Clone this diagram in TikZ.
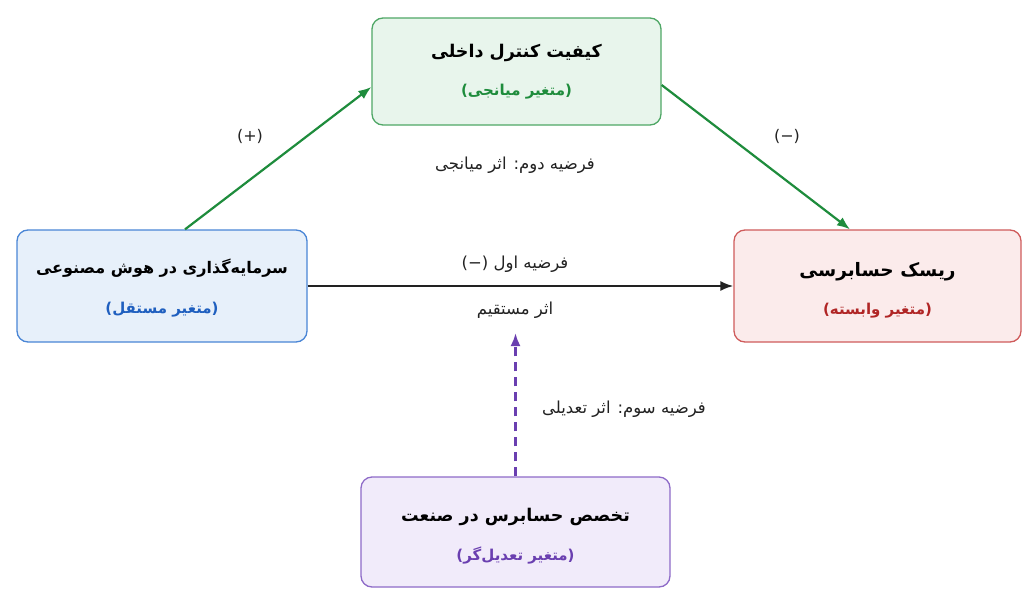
\documentclass[tikz,border=0pt]{standalone}
\usepackage{fontspec}
\TeXXeTstate=1
\setmainfont{DejaVu Sans}
\newfontfamily\fa[Script=Arabic]{DejaVu Sans}
\newfontfamily\la{DejaVu Sans}
\usetikzlibrary{arrows.meta,calc}
\definecolor{gfill}{HTML}{E8F5EC}\definecolor{gline}{HTML}{4FA766}\definecolor{gtext}{HTML}{1E8C3C}
\definecolor{bfill}{HTML}{E7F0FA}\definecolor{bline}{HTML}{4A86D6}\definecolor{btext}{HTML}{1F5FBF}
\definecolor{rfill}{HTML}{FBEBEB}\definecolor{rline}{HTML}{CF5B5B}\definecolor{rtext}{HTML}{B02525}
\definecolor{pfill}{HTML}{F1EBFA}\definecolor{pline}{HTML}{8E6BC8}\definecolor{ptext}{HTML}{6A3FB0}
\definecolor{ink}{HTML}{222222}
\begin{document}
\begin{tikzpicture}[x=1pt,y=-1pt,
  box/.style={draw, rounded corners=11pt, line width=1.3pt, inner sep=0pt},
  ttl/.style={font=\fa\fontsize{17.5}{21}\selectfont\bfseries, text=black},
  sub/.style={font=\fa\fontsize{15}{18}\selectfont\bfseries},
  lbl/.style={font=\fa\fontsize{16.5}{19}\selectfont, text=ink},
  garrow/.style={draw=gtext, line width=2.2pt, -{Latex[length=13pt,width=10pt]}},
  karrow/.style={draw=ink, line width=2pt, -{Latex[length=13pt,width=10pt]}},
  parrow/.style={draw=ptext, line width=2.4pt, dash pattern=on 9pt off 6pt, -{Latex[length=13pt,width=10pt]}}]
\useasboundingbox (0,0) rectangle (1024,613);
\fill[white] (0,0) rectangle (1024,613);

\node[box, draw=gline, fill=gfill, minimum width=289pt, minimum height=107pt] (med) at (516.5,71.5) {};
\node[box, draw=bline, fill=bfill, minimum width=290pt, minimum height=112pt] (iv) at (162,286) {};
\node[box, draw=rline, fill=rfill, minimum width=287pt, minimum height=112pt] (dv) at (877.5,286) {};
\node[box, draw=pline, fill=pfill, minimum width=309pt, minimum height=110pt] (mod) at (515.5,532) {};

\node[ttl] (medt) at (516.5,53) {\beginR کیفیت کنترل داخلی\endR};
\node[sub, text=gtext] (meds) at (516.5,92) {{\la(}\beginR متغیر میانجی\endR{\la)}};
\node[ttl, font=\fa\fontsize{16}{20}\selectfont\bfseries] (ivt) at (162,268) {\beginR سرمایه‌گذاری در هوش مصنوعی\endR};
\node[sub, text=btext] (ivs) at (162,310) {{\la(}\beginR متغیر مستقل\endR{\la)}};
\node[ttl, font=\fa\fontsize{18.5}{22}\selectfont\bfseries] (dvt) at (877.5,272) {\beginR ریسک حسابرسی\endR};
\node[sub, text=rtext] (dvs) at (877.5,311) {{\la(}\beginR متغیر وابسته\endR{\la)}};
\node[ttl] (modt) at (515.5,517) {\beginR تخصص حسابرس در صنعت\endR};
\node[sub, text=ptext] (mods) at (515.5,555) {{\la(}\beginR متغیر تعدیل‌گر\endR{\la)}};

\coordinate (modtip) at (515.5,333);
\draw[garrow] ($(iv.north)+(23,0)$) -- ($(med.west)+(0,15.5)$);
\draw[garrow] ($(med.east)+(0,13.5)$) -- ($(dv.north)+(-27.5,0)$);
\draw[karrow] (iv.east) -- (dv.west);
\draw[parrow] (mod.north) -- (modtip);

\node[lbl, font=\la\fontsize{16}{19}\selectfont] (lp) at (250,136) {(+)};
\node[lbl, font=\la\fontsize{16}{19}\selectfont] (lm) at (787,136) {(−)};
\node[lbl] (h2) at (515,165) {\beginR فرضیه دوم: اثر میانجی\endR};
\node[lbl] (h1) at (515,264) {{\la(−)} \beginR فرضیه اول\endR};
\node[lbl] (h1b) at (515,310) {\beginR اثر مستقیم\endR};
\node[lbl] (h3) at (624,409) {\beginR فرضیه سوم: اثر تعدیلی\endR};
\end{tikzpicture}
\end{document}
